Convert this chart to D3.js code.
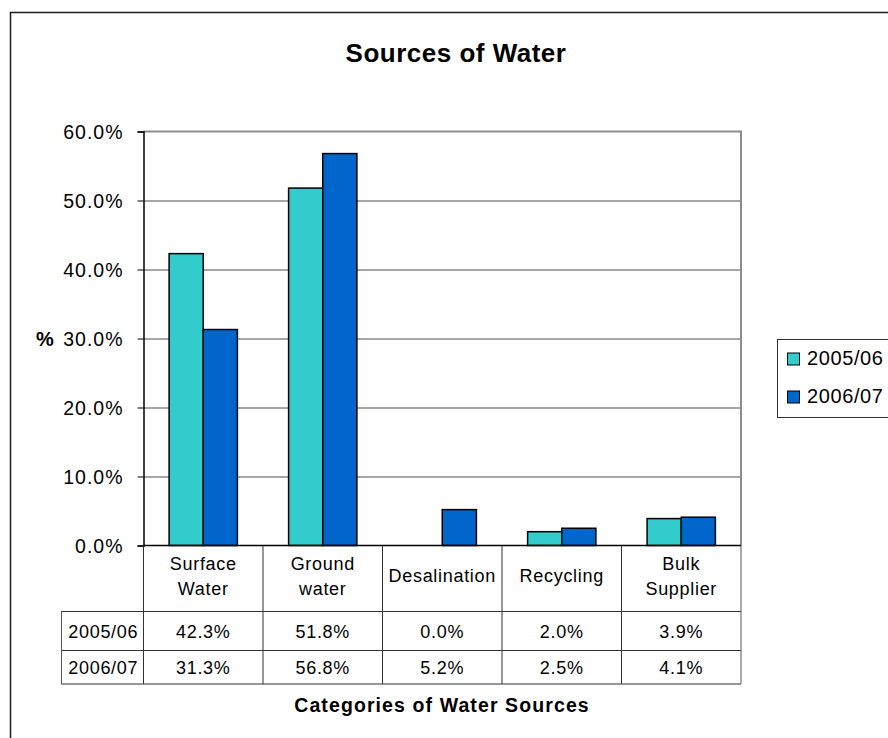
<!DOCTYPE html>
<html>
<head>
<meta charset="utf-8">
<script src="https://cdn.jsdelivr.net/npm/d3@7"></script>
<style>
  html, body { margin: 0; padding: 0; background: #fff; }
  svg { display: block; font-family: Arial, "Liberation Sans", sans-serif; }
</style>
</head>
<body>
<svg id="chart" width="888" height="738"></svg>
<script>
// Chart data
const categories = ["Surface Water", "Ground water", "Desalination", "Recycling", "Bulk Supplier"];
const seriesNames = ["2005/06", "2006/07"];
const values0506 = [0.423, 0.518, 0.000, 0.020, 0.039];
const values0607 = [0.313, 0.568, 0.052, 0.025, 0.041];
const yTicks = [0, 0.1, 0.2, 0.3, 0.4, 0.5, 0.6];
const seriesColors = ["#33CCCC", "#0066CC"];

const seriesValues = [values0506, values0607];
const rows = categories.map((c, i) => ({ category: c, values: seriesValues.map(v => v[i]) }));

const svg = d3.select("#chart");

// Layout
const plot = { left: 143.5, right: 741, top: 131.5, bottom: 545.5 };
const table = { left: 61, headerBottom: 611.5, row1Bottom: 650.5, bottom: 684 };

// Outer chart frame
svg.append("rect")
  .attr("x", 10.5).attr("y", 12.5)
  .attr("width", 1000).attr("height", 1000)
  .attr("fill", "none").attr("stroke", "#1a1a1a").attr("stroke-width", 1.5);

// Scales
const x0 = d3.scaleBand().domain(categories).range([plot.left, plot.right]).padding(0);
const x1 = d3.scaleBand().domain(seriesNames).range([0, x0.bandwidth()])
  .paddingInner(0).paddingOuter(0.75);
const y = d3.scaleLinear().domain([0, 0.6]).range([plot.bottom, plot.top]);

// Gridlines
svg.append("g")
  .attr("transform", `translate(${plot.left},0)`)
  .call(d3.axisLeft(y).tickValues(yTicks.slice(1, -1)).tickSize(-(plot.right - plot.left)).tickFormat(""))
  .call(g => g.select(".domain").remove())
  .call(g => g.selectAll("line").attr("stroke", "#4d4d4d").attr("stroke-width", 1));

// Plot area border (top and right)
svg.append("path")
  .attr("d", `M${plot.left},${plot.top}H${plot.right}V${plot.bottom}`)
  .attr("fill", "none").attr("stroke", "#8c8c8c").attr("stroke-width", 2);

// Bars
const groups = svg.append("g").selectAll("g")
  .data(rows).join("g")
  .attr("transform", d => `translate(${x0(d.category)},0)`);

groups.selectAll("rect")
  .data(d => d.values.map((v, i) => ({ series: seriesNames[i], value: v, i })))
  .join("rect")
  .filter(d => d.value > 0)
  .attr("x", d => x1(d.series))
  .attr("y", d => y(d.value))
  .attr("width", x1.bandwidth())
  .attr("height", d => y(0) - y(d.value))
  .attr("fill", d => seriesColors[d.i])
  .attr("stroke", "#000").attr("stroke-width", 1.5);

// Y axis
const yAxis = svg.append("g")
  .attr("transform", `translate(${plot.left},0)`)
  .call(d3.axisLeft(y).tickValues(yTicks).tickFormat(d3.format(".1%")).tickSize(6).tickPadding(14));
yAxis.select(".domain").attr("stroke", "#000").attr("stroke-width", 1.5);
yAxis.selectAll(".tick line").attr("stroke", "#000");
yAxis.selectAll(".tick text")
  .attr("font-size", 19.5).attr("fill", "#000").attr("letter-spacing", "1px")
  .attr("font-family", "Arial, 'Liberation Sans', sans-serif")
  .attr("dy", "0.36em");

// Data table
const tableG = svg.append("g");
const lineColor = "#333";

// horizontal lines
tableG.append("line").attr("x1", plot.left).attr("x2", plot.right).attr("y1", plot.bottom).attr("y2", plot.bottom)
  .attr("stroke", "#000").attr("stroke-width", 1.5);
[table.headerBottom, table.row1Bottom, table.bottom].forEach(yy => {
  tableG.append("line").attr("x1", table.left).attr("x2", plot.right).attr("y1", yy).attr("y2", yy)
    .attr("stroke", lineColor).attr("stroke-width", 1);
});
// vertical lines
const colEdges = categories.map(c => x0(c)).concat([plot.right]);
colEdges.forEach((xx, i) => {
  tableG.append("line")
    .attr("x1", xx).attr("x2", xx)
    .attr("y1", plot.bottom).attr("y2", table.bottom)
    .attr("stroke", i === colEdges.length - 1 ? "#555" : lineColor).attr("stroke-width", 1);
});
tableG.append("line").attr("x1", table.left + 0.5).attr("x2", table.left + 0.5)
  .attr("y1", table.headerBottom).attr("y2", table.bottom)
  .attr("stroke", "#555").attr("stroke-width", 1);

// header labels
const headerText = tableG.selectAll("text.cat")
  .data(categories).join("text")
  .attr("class", "cat")
  .attr("x", d => x0(d) + x0.bandwidth() / 2)
  .attr("text-anchor", "middle")
  .attr("font-size", 18).attr("letter-spacing", "0.7px").attr("fill", "#000");
headerText.each(function (d) {
  const parts = d.split(" ");
  const t = d3.select(this);
  if (parts.length === 1) {
    t.append("tspan").attr("x", x0(d) + x0.bandwidth() / 2).attr("y", 582).text(parts[0]);
  } else {
    parts.forEach((p, k) => {
      t.append("tspan").attr("x", x0(d) + x0.bandwidth() / 2).attr("y", 570 + k * 25).text(p);
    });
  }
});

// value rows
const fmt = d3.format(".1%");
const rowBaselines = [637.5, 674];
seriesNames.forEach((s, si) => {
  tableG.append("text")
    .attr("x", (table.left + plot.left) / 2 + 1)
    .attr("y", rowBaselines[si])
    .attr("text-anchor", "middle")
    .attr("font-size", 18).attr("letter-spacing", "0.7px").attr("fill", "#000")
    .text(s);
  tableG.selectAll(null)
    .data(rows).join("text")
    .attr("x", d => x0(d.category) + x0.bandwidth() / 2)
    .attr("y", rowBaselines[si])
    .attr("text-anchor", "middle")
    .attr("font-size", 18).attr("letter-spacing", "0.7px").attr("fill", "#000")
    .text(d => fmt(d.values[si]));
});

// Titles
svg.append("text")
  .attr("x", 456).attr("y", 62)
  .attr("text-anchor", "middle")
  .attr("font-size", 26).attr("font-weight", "bold").attr("letter-spacing", "0.5px")
  .text("Sources of Water");

svg.append("text")
  .attr("x", 442).attr("y", 711.5)
  .attr("text-anchor", "middle")
  .attr("font-size", 19.5).attr("font-weight", "bold").attr("letter-spacing", "1.1px")
  .text("Categories of Water Sources");

svg.append("text")
  .attr("x", 45).attr("y", 346)
  .attr("text-anchor", "middle")
  .attr("font-size", 20).attr("font-weight", "bold")
  .text("%");

// Legend
const legend = svg.append("g");
legend.append("rect")
  .attr("x", 777.5).attr("y", 339.5).attr("width", 200).attr("height", 78)
  .attr("fill", "#fff").attr("stroke", "#333").attr("stroke-width", 1);
seriesNames.forEach((s, i) => {
  legend.append("rect")
    .attr("x", 787.5).attr("y", 353 + i * 38)
    .attr("width", 12).attr("height", 12)
    .attr("fill", seriesColors[i]).attr("stroke", "#000").attr("stroke-width", 1);
  legend.append("text")
    .attr("x", 807).attr("y", 365 + i * 38)
    .attr("font-size", 20).attr("letter-spacing", "0.6px")
    .text(s);
});
</script>
</body>
</html>
